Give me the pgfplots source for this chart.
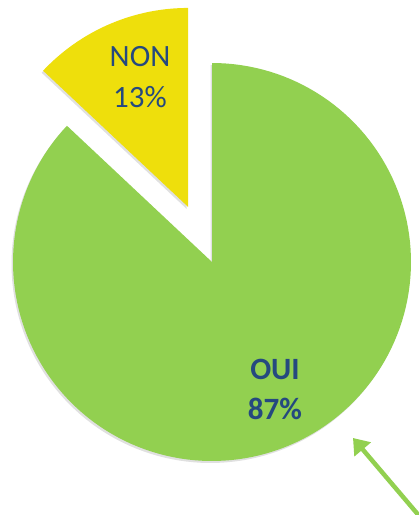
\documentclass[border=0pt]{standalone}
\usepackage{pgfplots}
\pgfplotsset{compat=1.18}
\usepackage{fontspec}
\setmainfont{Carlito}
\usetikzlibrary{arrows.meta}
\definecolor{pgreen}{HTML}{92D050}
\definecolor{pyellow}{HTML}{EEDF0C}
\definecolor{ptext}{HTML}{25497F}
% data: percentages
\def\pctoui{87}
\def\pctnon{13}
\begin{document}
\begin{tikzpicture}
\pgfmathsetmacro{\angnon}{\pctnon*3.6}
\pgfmathsetmacro{\startoui}{90+\angnon}
\pgfmathsetmacro{\endoui}{90+\angnon+\pctoui*3.6}
\pgfmathsetmacro{\midnon}{90+\angnon/2}
\pgfmathsetmacro{\cxn}{212+60*cos(\midnon)}
\pgfmathsetmacro{\cyn}{253+60*sin(\midnon)}
\begin{axis}[
  scale only axis, width=419pt, height=515pt,
  xmin=0, xmax=419, ymin=0, ymax=515,
  axis lines=none, ticks=none,
]
\addplot[draw=none, forget plot] coordinates {(0,0) (419,515)};
% shadows
\addplot[fill=black, fill opacity=0.12, draw=none, domain=\startoui:\endoui, samples=150]
  ({210.5+199*cos(x)},{251+199*sin(x)}) -- (axis cs:210.5,251) -- cycle;
\addplot[fill=black, fill opacity=0.12, draw=none, domain=90:\startoui, samples=40]
  ({\cxn-1.5+199*cos(x)},{\cyn-2+199*sin(x)}) -- (axis cs:\cxn-1.5,\cyn-2) -- cycle;
% OUI sector
\addplot[fill=pgreen, draw=none, domain=\startoui:\endoui, samples=150]
  ({212+199*cos(x)},{253+199*sin(x)}) -- (axis cs:212,253) -- cycle;
% NON sector (exploded)
\addplot[fill=pyellow, draw=none, domain=90:\startoui, samples=40]
  ({\cxn+199*cos(x)},{\cyn+199*sin(x)}) -- (axis cs:\cxn,\cyn) -- cycle;
% arrow
\addplot[pgreen, line width=4.5pt, -{Triangle[length=15pt,width=21pt]}]
  coordinates {(432,-16) (353,77)};
\node[text=ptext, align=center, font=\fontsize{31}{41}\selectfont] at (axis cs:140,438) {NON\\13\%};
\node[text=ptext, align=center, font=\fontsize{31}{40}\selectfont\bfseries] at (axis cs:275,126) {OUI\\87\%};
\end{axis}
\end{tikzpicture}
\end{document}
